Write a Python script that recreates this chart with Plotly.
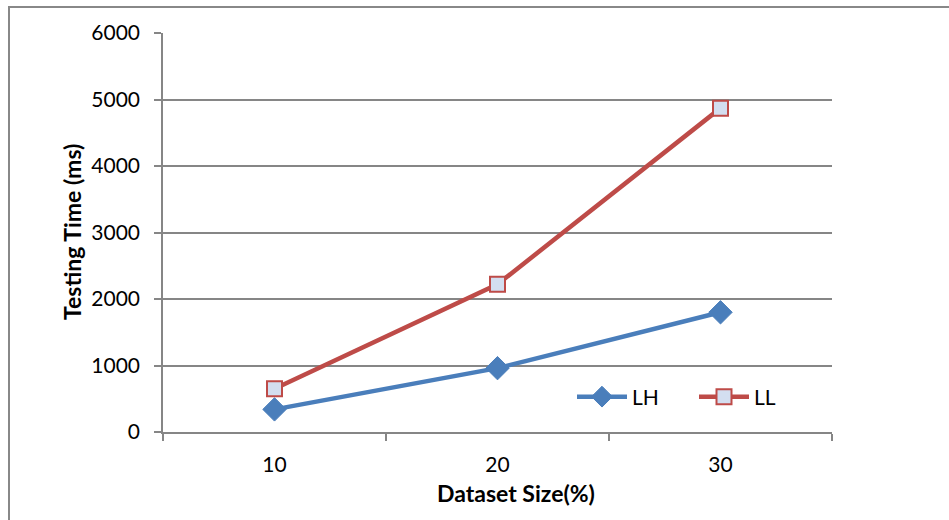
import plotly.graph_objects as go

# Testing time per dataset size
dataset_size = ["10", "20", "30"]
lh_ms = [340, 960, 1800]
ll_ms = [650, 2220, 4870]
y_ticks = [0, 1000, 2000, 3000, 4000, 5000, 6000]

W, H = 949, 520
L, R, T, B = 163, 832, 33, 432  # plot area in pixels

def px_x(p):
    return (p - L) / (R - L)

def px_y(p):
    return (B - p) / (B - T)

font = "Lato, Liberation Sans, Arial, sans-serif"
grid = "#868686"
fsize = 21
tsize = 23

fig = go.Figure()
fig.add_trace(go.Scatter(
    x=dataset_size, y=lh_ms, name="LH", mode="lines+markers",
    line=dict(color="#4a7ebb", width=4.5),
    marker=dict(symbol="diamond", size=18, color="#4a7ebb",
                line=dict(color="#4a7ebb", width=1)),
))
fig.add_trace(go.Scatter(
    x=dataset_size, y=ll_ms, name="LL", mode="lines+markers",
    line=dict(color="#be4b48", width=4.5),
    marker=dict(symbol="square", size=15, color="#d3def0",
                line=dict(color="#be4b48", width=2)),
))

fig.update_layout(
    width=W, height=H,
    margin=dict(l=L, r=W - R, t=T, b=H - B),
    paper_bgcolor="white", plot_bgcolor="white",
    font=dict(family=font, size=fsize, color="black"),
    showlegend=True,
    legend=dict(
        x=px_x(572), y=px_y(397), xanchor="left", yanchor="middle",
        orientation="h", bgcolor="rgba(0,0,0,0)",
        font=dict(family=font, size=fsize), itemwidth=50,
        entrywidth=57, entrywidthmode="pixels",
    ),
    xaxis=dict(
        type="category", tickson="boundaries", range=[-0.5, 2.5],
        ticks="outside", ticklen=7, tickcolor=grid, tickwidth=1.5,
        showline=True, linecolor=grid, linewidth=1.5,
        showgrid=False, zeroline=False, ticklabelstandoff=13,
    ),
    yaxis=dict(
        range=[0, 6000], tickvals=y_ticks,
        ticks="outside", ticklen=7, tickcolor=grid, tickwidth=1.5,
        showline=True, linecolor=grid, linewidth=1.5,
        showgrid=True, gridcolor=grid, gridwidth=1.5,
        zeroline=False, ticklabelstandoff=10,
    ),
    annotations=[
        dict(text="<b>Dataset Size(%)</b>", xref="paper", yref="paper",
             x=px_x(516), y=px_y(493), xanchor="center", yanchor="middle",
             showarrow=False, font=dict(size=tsize)),
        dict(text="<b>Testing Time (ms)</b>", xref="paper", yref="paper",
             x=px_x(72), y=px_y(232), xanchor="center", yanchor="middle",
             textangle=-90, showarrow=False, font=dict(size=tsize)),
    ],
    shapes=[dict(
        type="rect", xref="paper", yref="paper",
        x0=px_x(9), x1=px_x(W + 20), y0=px_y(H + 20), y1=px_y(7),
        line=dict(color="#888888", width=2), fillcolor="rgba(0,0,0,0)",
        layer="below",
    )],
)

fig.write_html("out.html")
